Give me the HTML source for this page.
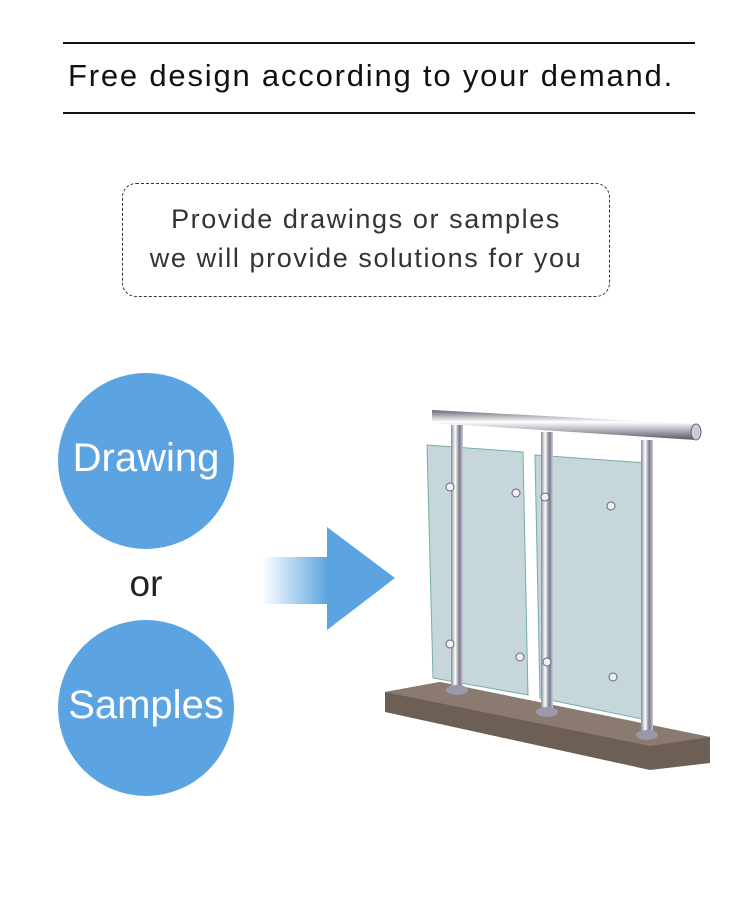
<!DOCTYPE html>
<html><head><meta charset="utf-8"><style>
body{margin:0;background:#fff;}
.wrap{position:relative;width:750px;height:912px;overflow:hidden;font-family:"Liberation Sans",sans-serif;}
.t{position:absolute;white-space:nowrap;}
</style></head><body><div class="wrap">
<div style="position:absolute;left:63px;top:42px;width:632px;height:2px;background:#111"></div>
<div style="position:absolute;left:63px;top:112px;width:632px;height:2px;background:#111"></div>
<div class="t" style="left:55px;width:632px;text-align:center;top:58px;font-size:31px;color:#111;letter-spacing:1.8px">Free design according to your demand.</div>
<div style="position:absolute;left:122px;top:183px;width:486px;height:112px;border:1px dashed #333;border-radius:14px;"></div>
<div class="t" style="left:122px;width:488px;text-align:center;top:200px;font-size:27px;color:#333;line-height:39px;letter-spacing:1.6px">Provide drawings or samples<br>we will provide solutions for you</div>
<div style="position:absolute;left:58px;top:373px;width:176px;height:176px;border-radius:50%;background:#5ca4e1"></div>
<div class="t" style="left:58px;width:176px;text-align:center;top:436px;font-size:40px;color:#fff">Drawing</div>
<div class="t" style="left:58px;width:176px;text-align:center;top:563px;font-size:37px;color:#222">or</div>
<div style="position:absolute;left:58px;top:620px;width:176px;height:176px;border-radius:50%;background:#5ca4e1"></div>
<div class="t" style="left:58px;width:176px;text-align:center;top:683px;font-size:40px;color:#fff">Samples</div>
<svg style="position:absolute;left:0;top:0" width="750" height="912">
<defs>
<linearGradient id="g" x1="0" x2="1"><stop offset="0" stop-color="#5ca4e1" stop-opacity="0"/><stop offset="1" stop-color="#5ca4e1"/></linearGradient>
<linearGradient id="m" x1="0" x2="1"><stop offset="0" stop-color="#889"/><stop offset=".35" stop-color="#fff"/><stop offset=".7" stop-color="#778"/><stop offset="1" stop-color="#ccd"/></linearGradient>
<linearGradient id="r" x1="0" y1="0" x2="0" y2="1"><stop offset="0" stop-color="#667"/><stop offset=".4" stop-color="#fff"/><stop offset="1" stop-color="#556"/></linearGradient>
</defs>
<rect x="262" y="557" width="66" height="47" fill="url(#g)"/>
<polygon points="327,527 395,578 327,630" fill="#5ca4e1"/>
<polygon points="385,692 440,682 710,737 710,763 650,770 385,712" fill="#6e5f55"/>
<polygon points="385,692 440,682 710,737 650,746" fill="#8a7a6f"/>
<polygon points="427,445 523,452 528,695 433,678" fill="#bfd3d6" opacity=".9" stroke="#6aa59a"/>
<polygon points="535,455 647,463 647,720 540,698" fill="#bfd3d6" opacity=".9" stroke="#6aa59a"/>
<rect x="451" y="425" width="12" height="265" fill="url(#m)"/>
<rect x="541" y="432" width="12" height="280" fill="url(#m)"/>
<rect x="641" y="440" width="12" height="295" fill="url(#m)"/>
<ellipse cx="457" cy="690" rx="11" ry="5" fill="#99a"/>
<ellipse cx="547" cy="712" rx="11" ry="5" fill="#99a"/>
<ellipse cx="647" cy="735" rx="11" ry="5" fill="#99a"/>
<polygon points="432,410 696,424 696,440 432,423" fill="url(#r)"/>
<ellipse cx="696" cy="432" rx="5" ry="8" fill="#ccd" stroke="#667"/>
<g fill="#eef" stroke="#667">
<circle cx="450" cy="487" r="4"/><circle cx="450" cy="644" r="4"/><circle cx="516" cy="493" r="4"/><circle cx="545" cy="497" r="4"/>
<circle cx="520" cy="657" r="4"/><circle cx="547" cy="662" r="4"/><circle cx="611" cy="506" r="4"/><circle cx="613" cy="677" r="4"/>
</g>
</svg>
</div></body></html>
